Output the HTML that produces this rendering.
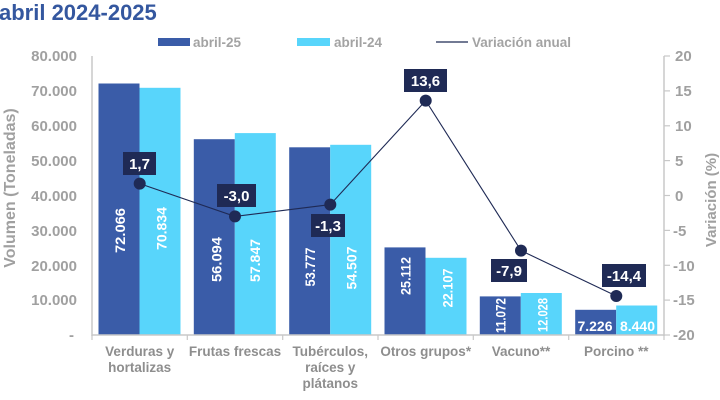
<!DOCTYPE html>
<html><head><meta charset="utf-8"><style>
html,body{margin:0;padding:0;background:#fff;}
svg{display:block;font-family:"Liberation Sans",Arial,sans-serif;}
</style></head><body>
<svg width="720" height="400" viewBox="0 0 720 400" xmlns="http://www.w3.org/2000/svg">
<rect width="720" height="400" fill="#fff"/>
<!-- title -->
<text x="-1" y="20" font-size="22" font-weight="bold" fill="#34579f">abril 2024-2025</text>
<!-- legend -->
<rect x="158" y="38" width="32" height="8" fill="#3a5ca8"/>
<text x="193" y="47" font-size="13.5" font-weight="bold" fill="#a3a3a3">abril-25</text>
<rect x="297" y="38" width="33" height="8" fill="#58d5fb"/>
<text x="334" y="47" font-size="13.5" font-weight="bold" fill="#a3a3a3">abril-24</text>
<line x1="436" y1="42" x2="468" y2="42" stroke="#1f2a55" stroke-width="1.2"/>
<text x="472" y="47" font-size="13.5" font-weight="bold" fill="#a3a3a3">Variación anual</text>

<!-- axes -->
<line x1="92" y1="56" x2="92" y2="336" stroke="#c8c8c8" stroke-width="1.5"/>
<line x1="664" y1="56" x2="664" y2="336" stroke="#c8c8c8" stroke-width="1.5"/>
<g stroke="#c8c8c8" stroke-width="1.2">
<line x1="664" y1="56" x2="670" y2="56"/>
<line x1="664" y1="90.9" x2="670" y2="90.9"/>
<line x1="664" y1="125.8" x2="670" y2="125.8"/>
<line x1="664" y1="160.6" x2="670" y2="160.6"/>
<line x1="664" y1="195.5" x2="670" y2="195.5"/>
<line x1="664" y1="230.4" x2="670" y2="230.4"/>
<line x1="664" y1="265.3" x2="670" y2="265.3"/>
<line x1="664" y1="300.1" x2="670" y2="300.1"/>
<line x1="664" y1="335" x2="670" y2="335"/>
<line x1="92" y1="335" x2="92" y2="340"/>
<line x1="187.3" y1="335" x2="187.3" y2="340"/>
<line x1="282.7" y1="335" x2="282.7" y2="340"/>
<line x1="378" y1="335" x2="378" y2="340"/>
<line x1="473.3" y1="335" x2="473.3" y2="340"/>
<line x1="568.7" y1="335" x2="568.7" y2="340"/>
<line x1="664" y1="335" x2="664" y2="340"/>
</g>

<!-- left tick labels -->
<g font-size="15" font-weight="bold" fill="#a0a0a0" text-anchor="end">
<text x="77" y="61">80.000</text>
<text x="77" y="96">70.000</text>
<text x="77" y="131">60.000</text>
<text x="77" y="166">50.000</text>
<text x="77" y="201">40.000</text>
<text x="77" y="236">30.000</text>
<text x="77" y="271">20.000</text>
<text x="77" y="305">10.000</text>
<text x="74" y="340">-</text>
</g>
<!-- right tick labels -->
<g font-size="15" font-weight="bold" fill="#a0a0a0">
<text x="675" y="61">20</text>
<text x="675" y="96">15</text>
<text x="675" y="131">10</text>
<text x="675" y="166">5</text>
<text x="675" y="201">0</text>
<text x="673" y="236">-5</text>
<text x="673" y="271">-10</text>
<text x="673" y="305">-15</text>
<text x="673" y="340">-20</text>
</g>
<!-- axis titles -->
<text transform="translate(15,188) rotate(-90)" text-anchor="middle" font-size="16" font-weight="bold" fill="#a0a0a0">Volumen (Toneladas)</text>
<text transform="translate(716,200) rotate(-90)" text-anchor="middle" font-size="15" font-weight="bold" fill="#a0a0a0">Variación (%)</text>

<!-- bars -->
<g fill="#3a5ca8">
<rect x="98.5" y="83.5" width="41" height="251.5"/>
<rect x="193.8" y="139.2" width="41" height="195.8"/>
<rect x="289.2" y="147.3" width="41" height="187.7"/>
<rect x="384.5" y="247.4" width="41" height="87.6"/>
<rect x="479.8" y="296.4" width="41" height="38.6"/>
<rect x="575.2" y="309.8" width="41" height="25.2"/>
</g>
<g fill="#58d5fb">
<rect x="139.5" y="87.8" width="41" height="247.2"/>
<rect x="234.8" y="133.1" width="41" height="201.9"/>
<rect x="330.2" y="144.8" width="41" height="190.2"/>
<rect x="425.5" y="257.8" width="41" height="77.2"/>
<rect x="520.8" y="293.0" width="41" height="42"/>
<rect x="616.2" y="305.5" width="41" height="29.5"/>
</g>
<line x1="92" y1="335" x2="664" y2="335" stroke="#c8c8c8" stroke-width="1.5"/>

<!-- bar values -->
<g font-size="14" font-weight="bold" fill="#fff" text-anchor="middle">
<text transform="translate(125,230.5) rotate(-90)" textLength="45" lengthAdjust="spacingAndGlyphs">72.066</text>
<text transform="translate(166.5,228.5) rotate(-90)" textLength="43" lengthAdjust="spacingAndGlyphs">70.834</text>
<text transform="translate(221.7,259.5) rotate(-90)" textLength="45" lengthAdjust="spacingAndGlyphs">56.094</text>
<text transform="translate(260,260.5) rotate(-90)" textLength="43" lengthAdjust="spacingAndGlyphs">57.847</text>
<text transform="translate(315,267) rotate(-90)" textLength="39" lengthAdjust="spacingAndGlyphs">53.777</text>
<text transform="translate(356.7,268) rotate(-90)" textLength="43" lengthAdjust="spacingAndGlyphs">54.507</text>
<text transform="translate(410.7,276) rotate(-90)" textLength="38" lengthAdjust="spacingAndGlyphs">25.112</text>
<text transform="translate(452.3,288) rotate(-90)" textLength="39" lengthAdjust="spacingAndGlyphs">22.107</text>
<text transform="translate(505.7,315.5) rotate(-90)" textLength="35" lengthAdjust="spacingAndGlyphs">11.072</text>
<text transform="translate(547.3,315) rotate(-90)" textLength="34" lengthAdjust="spacingAndGlyphs">12.028</text>
<text x="595" y="331">7.226</text>
<text x="637.5" y="331">8.440</text>
</g>

<!-- line series -->
<polyline points="139.7,183.6 235,216.4 330.3,204.6 425.7,100.6 521,250.6 616.3,296" fill="none" stroke="#1f2a55" stroke-width="1.1"/>
<g fill="#1f2a55">
<circle cx="139.7" cy="183.6" r="6"/>
<circle cx="235" cy="216.4" r="6"/>
<circle cx="330.3" cy="204.6" r="6"/>
<circle cx="425.7" cy="100.6" r="6"/>
<circle cx="521" cy="250.6" r="6"/>
<circle cx="616.3" cy="296" r="6"/>
</g>
<!-- data labels -->
<g fill="#1f2a55">
<rect x="123" y="152" width="33" height="23"/>
<rect x="217" y="184" width="39" height="23"/>
<rect x="311" y="214" width="34" height="23"/>
<rect x="404" y="69" width="43" height="23"/>
<rect x="491" y="259" width="36" height="23"/>
<rect x="602" y="264" width="44" height="23"/>
</g>
<g font-size="15" font-weight="bold" fill="#fff" text-anchor="middle">
<text x="139.5" y="169">1,7</text>
<text x="236.5" y="201">-3,0</text>
<text x="328" y="231">-1,3</text>
<text x="425.5" y="86">13,6</text>
<text x="509" y="276">-7,9</text>
<text x="624" y="281">-14,4</text>
</g>

<!-- category labels -->
<g font-size="13.5" font-weight="bold" fill="#8e8e8e" text-anchor="middle">
<text x="139.7" y="356">Verduras y</text>
<text x="139.7" y="372">hortalizas</text>
<text x="235" y="356">Frutas frescas</text>
<text x="330.3" y="356">Tubérculos,</text>
<text x="330.3" y="372">raíces y</text>
<text x="330.3" y="388">plátanos</text>
<text x="425.7" y="356">Otros grupos*</text>
<text x="521" y="356">Vacuno**</text>
<text x="616.3" y="356">Porcino **</text>
</g>
</svg>
</body></html>
